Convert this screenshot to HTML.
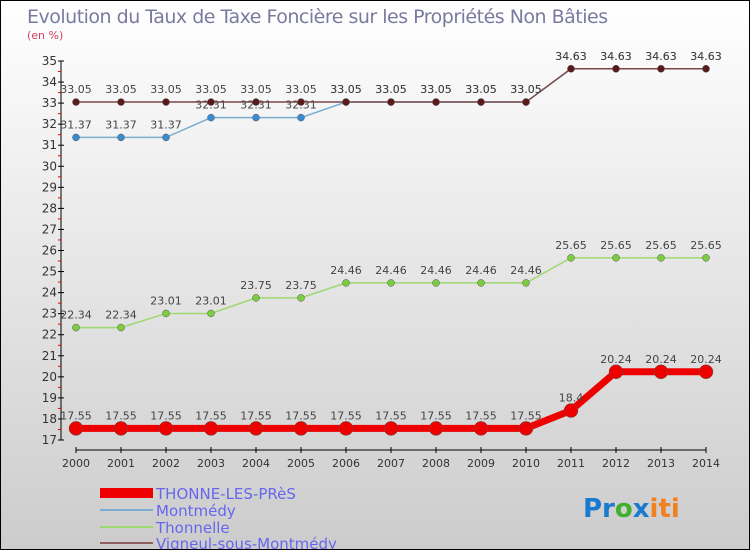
<!DOCTYPE html>
<html><head><meta charset="utf-8"><style>
body{margin:0}
#c{width:748px;height:548px;border:1px solid #000;background:linear-gradient(#fff,#ccc);position:relative;font-family:"DejaVu Sans","Liberation Sans",sans-serif;overflow:hidden}
text{font-family:"DejaVu Sans","Liberation Sans",sans-serif}
</style></head><body>
<div id="c">
<svg id="s" width="748" height="548">
<text x="26" y="22" font-size="19" fill="#7a7aa0" style="letter-spacing:-0.5px">Evolution du Taux de Taxe Foncière sur les Propriétés Non Bâties</text>
<text x="26" y="38" font-size="11" fill="#d04060">(en %)</text>
<g id="ax"></g><g id="marks"></g>
<g>
<rect x="99" y="487" width="53" height="10" fill="#e00"/>
<text x="155" y="498" font-size="15" fill="#6666ee">THONNE-LES-PRèS</text>
<rect x="99" y="508" width="53" height="2" fill="#7aaed0"/>
<text x="155" y="515" font-size="15" fill="#6666ee">Montmédy</text>
<rect x="99" y="525" width="53" height="2" fill="#9ed870"/>
<text x="155" y="532" font-size="15" fill="#6666ee">Thonnelle</text>
<rect x="99" y="541" width="53" height="2" fill="#906060"/>
<text x="155" y="548" font-size="15" fill="#6666ee">Vigneul-sous-Montmédy</text>
</g>
<text x="582" y="516" font-size="26" font-weight="bold"><tspan fill="#1a7ad0">Pr</tspan><tspan fill="#40b030">o</tspan><tspan fill="#1a7ad0">x</tspan><tspan fill="#f08020">iti</tspan></text>
</svg></div>
<script>
const years=[2000,2001,2002,2003,2004,2005,2006,2007,2008,2009,2010,2011,2012,2013,2014];
const yTicks=[17,18,19,20,21,22,23,24,25,26,27,28,29,30,31,32,33,34,35];
const vigneul=[33.05,33.05,33.05,33.05,33.05,33.05,33.05,33.05,33.05,33.05,33.05,34.63,34.63,34.63,34.63];
const montmedy=[31.37,31.37,31.37,32.31,32.31,32.31,33.05,33.05,33.05,33.05,33.05,34.63,34.63,34.63,34.63];
const thonnelle=[22.34,22.34,23.01,23.01,23.75,23.75,24.46,24.46,24.46,24.46,24.46,25.65,25.65,25.65,25.65];
const thonne=[17.55,17.55,17.55,17.55,17.55,17.55,17.55,17.55,17.55,17.55,17.55,18.4,20.24,20.24,20.24];
const NS="http://www.w3.org/2000/svg";
const X=i=>75+i*(705-75)/14, Y=v=>439-(v-17)*(439-60)/18;
function mk(t,a,p){const e=document.createElementNS(NS,t);for(const k in a)e.setAttribute(k,a[k]);(p||document.getElementById('ax')).appendChild(e);return e;}
const ax=document.getElementById('ax'), mg=document.getElementById('marks');
let e=mk('line',{x1:60,y1:Y(35),x2:60,y2:Y(17),stroke:'#000'});

e=mk('line',{x1:X(0),y1:449,x2:X(14),y2:449,stroke:'#000'});

yTicks.forEach(v=>{mk('line',{x1:57,y1:Y(v),x2:63,y2:Y(v),stroke:'#000'});
 if(v<35)mk('line',{x1:57,y1:Y(v+0.5),x2:60,y2:Y(v+0.5),stroke:'#e00'});
 const t=mk('text',{x:56,y:Y(v)+4,'font-size':12,'text-anchor':'end',fill:'#333'});t.textContent=v;
 });
years.forEach((y,i)=>{mk('line',{x1:X(i),y1:446,x2:X(i),y2:452,stroke:'#000'});
 const t=mk('text',{x:X(i),y:466,'font-size':11,'text-anchor':'middle',fill:'#333'});t.textContent=y;
 });
function series(vals,col,dot,w,r,name){
 const g=mk('g',{},mg);
 mk('polyline',{points:vals.map((v,i)=>X(i)+','+Y(v)).join(' '),fill:'none',stroke:col,'stroke-width':w},g);
 vals.forEach((v,i)=>{const c=mk('circle',{cx:X(i),cy:Y(v),r:r,fill:dot,stroke:'#555','stroke-width':0.5},g);
 
 const t=mk('text',{x:X(i),y:Y(v)-9,'font-size':11,'text-anchor':'middle',fill:'#444'},g);t.textContent=v;
 });
}
series(thonnelle,'#9ed870','#7ccc40',1.5,3.5,'thonnelle');
series(montmedy,'#7aaed0','#3a8ad0',1.5,3.5,'montmedy');
series(vigneul,'#7a4848','#5a1a1a',1.5,3.5,'vigneul');
series(thonne,'#e00','#e00',7,7,'thonne');
</script></body></html>
